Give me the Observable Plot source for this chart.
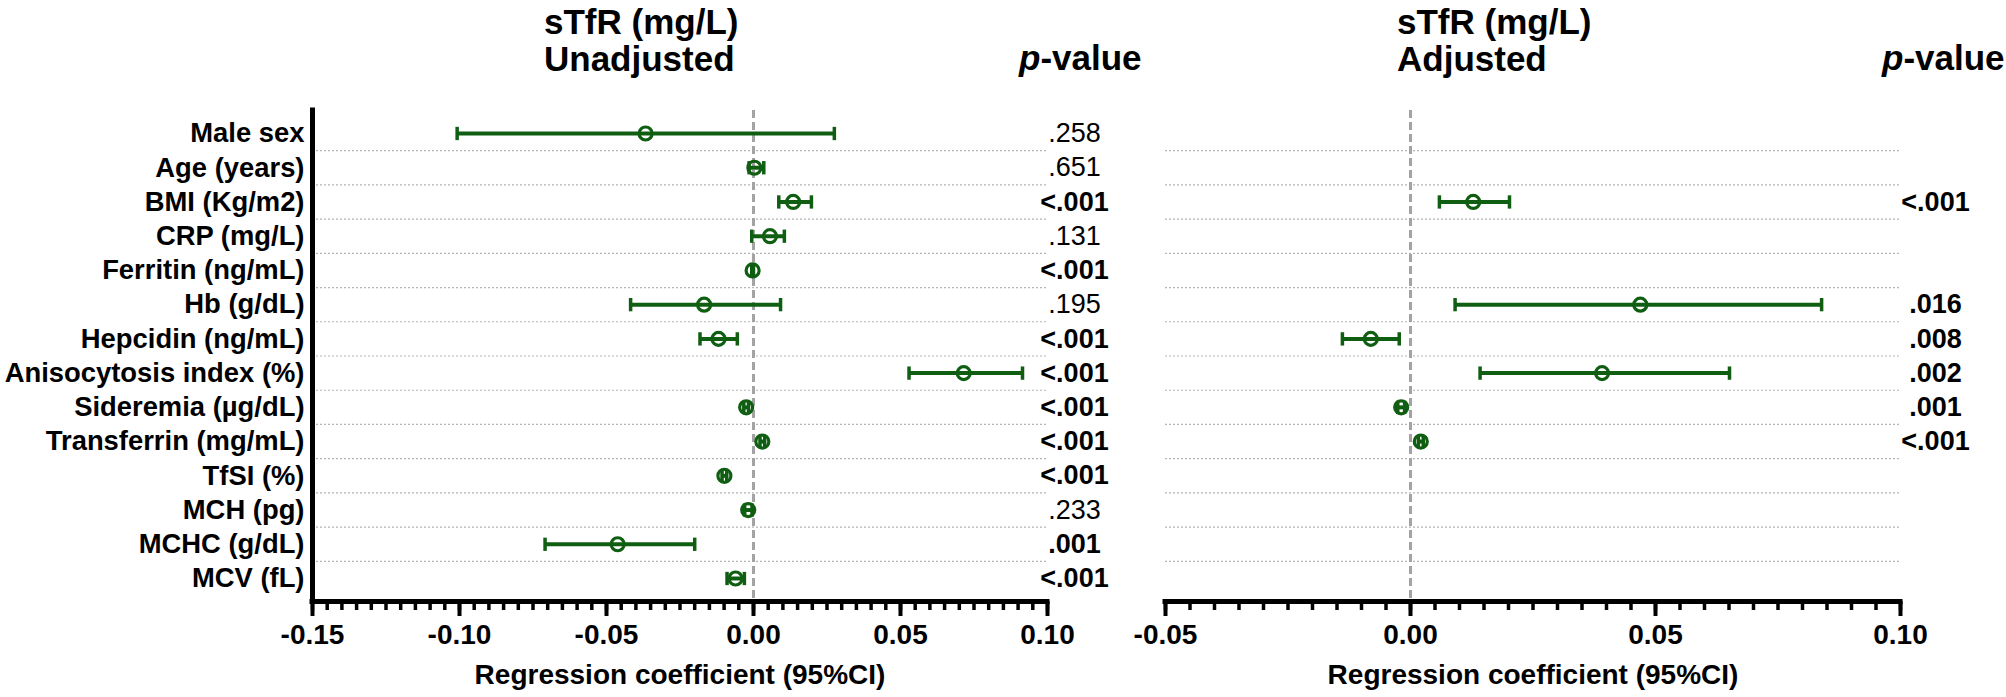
<!DOCTYPE html>
<html>
<head>
<meta charset="utf-8">
<script src="https://cdn.jsdelivr.net/npm/d3@7"></script>
<script src="https://cdn.jsdelivr.net/npm/@observablehq/plot@0.6"></script>
<style>
  html, body { margin: 0; padding: 0; background: #fff; }
  #wrap { position: relative; width: 2006px; height: 697px; overflow: hidden; font-family: "Liberation Sans", Arial, sans-serif; font-weight: bold; color: #000; }
  .ttl { position: absolute; font-size: 35px; line-height: 37px; white-space: nowrap; }
  .panel { position: absolute; top: 0; }
  .panel svg { max-width: none; }
</style>
</head>
<body>
<div id="wrap">
  <div class="ttl" style="left:544px; top:3px;">sTfR (mg/L)<br>Unadjusted</div>
  <div class="ttl" style="left:1019px; top:39px;"><i>p</i>-value</div>
  <div class="ttl" style="left:1397px; top:3px;">sTfR (mg/L)<br>Adjusted</div>
  <div class="ttl" style="left:1882px; top:39px;"><i>p</i>-value</div>
  <div class="panel" id="left" style="left:0px;"></div>
  <div class="panel" id="right" style="left:1130px;"></div>
</div>
<script>
// ---- data ----
const categories = ["Male sex", "Age (years)", "BMI (Kg/m2)", "CRP (mg/L)", "Ferritin (ng/mL)", "Hb (g/dL)", "Hepcidin (ng/mL)", "Anisocytosis index (%)", "Sideremia (µg/dL)", "Transferrin (mg/mL)", "TfSI (%)", "MCH (pg)", "MCHC (g/dL)", "MCV (fL)"];

// Unadjusted
const unadjCoef  = [-0.0367, 0.0003, 0.0135, 0.0056, -0.0003, -0.0168, -0.0119, 0.0715, -0.0025, 0.0030, -0.0099, -0.0018, -0.0462, -0.0061];
const unadjLower = [-0.1008, -0.0015, 0.0086, -0.0006, -0.0006, -0.0418, -0.0182, 0.0529, -0.0033, 0.0022, -0.0107, -0.0030, -0.0709, -0.0090];
const unadjUpper = [0.0275, 0.0035, 0.0197, 0.0105, 0.0000, 0.0092, -0.0055, 0.0915, -0.0017, 0.0038, -0.0091, -0.0005, -0.0200, -0.0031];
const unadjP     = [".258", ".651", "<.001", ".131", "<.001", ".195", "<.001", "<.001", "<.001", "<.001", "<.001", ".233", ".001", "<.001"];
const unadjSig   = [false, false, true, false, true, false, true, true, true, true, true, false, true, true];

// Adjusted (only retained variables)
const adjCategories = ["BMI (Kg/m2)", "Hb (g/dL)", "Hepcidin (ng/mL)", "Anisocytosis index (%)", "Sideremia (µg/dL)", "Transferrin (mg/mL)"];
const adjCoef  = [0.0128, 0.0469, -0.0081, 0.0391, -0.0019, 0.0021];
const adjLower = [0.0059, 0.0091, -0.0139, 0.0142, -0.0026, 0.0016];
const adjUpper = [0.0202, 0.0839, -0.0023, 0.0651, -0.0012, 0.0026];
const adjP     = ["<.001", ".016", ".008", ".002", ".001", "<.001"];

// axes
const leftDomain = [-0.15, 0.10];
const rightDomain = [-0.05, 0.10];
const leftMajor = [-0.15, -0.10, -0.05, 0.00, 0.05, 0.10];
const rightMajor = [-0.05, 0.00, 0.05, 0.10];
const minorStep = 0.005;
const axisTitle = "Regression coefficient (95%CI)";

// ---- build ----
const GREEN = "#0f5e12";
const FONT = "'Liberation Sans', Arial, sans-serif";
const n = categories.length;
const idx = categories.map((_, i) => i);
const yDomain = [-0.672, n - 1 + 0.672];

const capSymbol = {
  draw(ctx, size) {
    const h = Math.sqrt(size);
    ctx.moveTo(0, -h / 2);
    ctx.lineTo(0, h / 2);
  }
};

function minorTicks(dom) {
  const k0 = Math.round(dom[0] / minorStep), k1 = Math.round(dom[1] / minorStep);
  return d3.range(k0, k1 + 1).map(k => +(k * minorStep).toFixed(4));
}
const fmt = d => d.toFixed(2);

function panel({rows, domain, major, width, marginLeft, marginRight, yAxis, pDx}) {
  const marks = [];
  // row separators
  marks.push(Plot.ruleY(idx.slice(0, -1), {y: i => i + 0.5, stroke: "#b4b4b4", strokeWidth: 1.2, strokeDasharray: "2,2"}));
  // zero line
  marks.push(Plot.ruleX([0], {stroke: "#a3a3a3", strokeWidth: 3, strokeDasharray: "8,4"}));
  // y axis line
  if (yAxis) {
    marks.push(Plot.ruleX([domain[0]], {stroke: "#000", strokeWidth: 5, y1: yDomain[0] - 0.07, y2: yDomain[1]}));
    marks.push(Plot.axisY(idx, {tickSize: 0, tickPadding: 8, tickFormat: i => categories[i], fontSize: 27.4, fontWeight: "bold", label: null}));
  }
  // x axis line
  marks.push(Plot.ruleY([yDomain[1]], {stroke: "#000", strokeWidth: 5, x1: domain[0], x2: domain[1], insetLeft: -2.5, insetRight: -2.5}));
  marks.push(Plot.axisX(minorTicks(domain), {tickSize: 9, strokeWidth: 3.5, fill: "none", label: null, tickFormat: fmt}));
  marks.push(Plot.axisX(major, {tickSize: 15, strokeWidth: 4, tickPadding: 8, tickFormat: fmt, fontSize: 28, fontWeight: "bold", label: null}));
  marks.push(Plot.text([axisTitle], {frameAnchor: "bottom", dy: 82, fontSize: 28, fontWeight: "bold"}));
  // error bars
  marks.push(Plot.link(rows, {x1: "lo", x2: "hi", y1: "i", y2: "i", stroke: GREEN, strokeWidth: 4}));
  marks.push(Plot.dot(rows, {x: "lo", y: "i", symbol: capSymbol, r: 7.5, stroke: GREEN, strokeWidth: 3.5, fill: "none"}));
  marks.push(Plot.dot(rows, {x: "hi", y: "i", symbol: capSymbol, r: 7.5, stroke: GREEN, strokeWidth: 3.5, fill: "none"}));
  marks.push(Plot.dot(rows, {x: "coef", y: "i", r: 6.5, stroke: GREEN, strokeWidth: 3.2, fill: "none"}));
  // p-values
  marks.push(Plot.text(rows.filter(d => d.sig), {y: "i", text: "p", frameAnchor: "right", dx: pDx, textAnchor: "middle", fontSize: 27, fontWeight: "bold"}));
  marks.push(Plot.text(rows.filter(d => !d.sig), {y: "i", text: "p", frameAnchor: "right", dx: pDx, textAnchor: "middle", fontSize: 27, fontWeight: "normal"}));

  return Plot.plot({
    width, height: 697,
    marginTop: 110, marginBottom: 96, marginLeft, marginRight,
    x: {domain},
    y: {domain: yDomain, reverse: true, axis: null},
    symbol: {type: "identity"},
    style: {fontFamily: FONT, fontWeight: "bold", color: "#000", background: "transparent", overflow: "visible"},
    marks
  });
}

const leftRows = categories.map((c, i) => ({i, name: c, coef: unadjCoef[i], lo: unadjLower[i], hi: unadjUpper[i], p: unadjP[i], sig: unadjSig[i]}));
const rightRows = adjCategories.map((c, j) => ({i: categories.indexOf(c), name: c, coef: adjCoef[j], lo: adjLower[j], hi: adjUpper[j], p: adjP[j], sig: true}));

document.getElementById("left").appendChild(panel({rows: leftRows, domain: leftDomain, major: leftMajor, width: 1130, marginLeft: 312, marginRight: 83, yAxis: true, pDx: 27}));
document.getElementById("right").appendChild(panel({rows: rightRows, domain: rightDomain, major: rightMajor, width: 876, marginLeft: 35, marginRight: 106, yAxis: false, pDx: 35}));
</script>
</body>
</html>
